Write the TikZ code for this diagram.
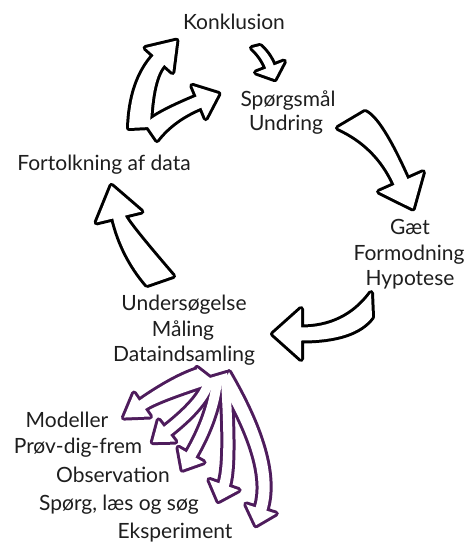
\documentclass[tikz,border=0pt]{standalone}
\usepackage{fontspec}
\setmainfont{Lato}
\usetikzlibrary{calc}
\definecolor{purp}{RGB}{78,28,92}
\definecolor{txt}{RGB}{30,30,30}
% #1 options, #2 tail-left, #3 tail-right, #4 control, #5 head base centre, #6 half shaft width at head, #7 half head width, #8 head length
\newcommand{\barrow}[8]{%
  \coordinate (bL0) at #2;
  \coordinate (bR0) at #3;
  \coordinate (bP0) at ($(bL0)!0.5!(bR0)$);
  \coordinate (bP1) at #4;
  \coordinate (bP2) at #5;
  \coordinate (bL2) at ($(bP2)!#6!-90:(bP1)$);
  \coordinate (bR2) at ($(bP2)!#6!90:(bP1)$);
  \coordinate (bLa) at ($(bL0)+(bP1)-(bP0)$);
  \coordinate (bLb) at ($(bL2)+(bP1)-(bP2)$);
  \coordinate (bRa) at ($(bR0)+(bP1)-(bP0)$);
  \coordinate (bRb) at ($(bR2)+(bP1)-(bP2)$);
  \coordinate (bL1) at (intersection of bL0--bLa and bL2--bLb);
  \coordinate (bR1) at (intersection of bR0--bRa and bR2--bRb);
  \coordinate (bHL) at ($(bP2)!#7!-90:(bP1)$);
  \coordinate (bHR) at ($(bP2)!#7!90:(bP1)$);
  \coordinate (bT) at ($(bP2)!-#8!(bP1)$);
  \path[#1] (bR0) -- (bL0) .. controls ($(bL0)!0.667!(bL1)$) and ($(bL2)!0.667!(bL1)$) .. (bL2)
     -- (bHL) -- (bT) -- (bHR) -- (bR2)
     .. controls ($(bR2)!0.667!(bR1)$) and ($(bR0)!0.667!(bR1)$) .. (bR0) -- cycle;
}
\newcommand{\blackset}[1]{%
  \barrow{#1}{(260,46)}{(252,48)}{(265.4,55.3)}{(270,67)}{4pt}{15pt}{13pt}
  \barrow{#1}{(365,112)}{(338,128)}{(379,132.6)}{(401,182)}{7pt}{24pt}{29pt}
  \barrow{#1}{(372,317)}{(371,293)}{(350,334)}{(301,334)}{6.5pt}{25pt}{28pt}
  \barrow{#1}{(147,285)}{(173,276)}{(124.3,239)}{(119,217)}{6pt}{23pt}{32pt}
  \barrow{#1}{(129,128)}{(150,127)}{(141,80)}{(159,60)}{7pt}{18pt}{26pt}
  \barrow{#1}{(146,124)}{(157,140)}{(163,117)}{(199,102)}{6pt}{17.5pt}{21pt}
}
\newcommand{\purpset}[1]{%
  \path[#1] (197,368) -- (210,378) -- (227,373) -- (231,385) -- (203,387) -- cycle;
  \barrow{#1}{(206,385)}{(198,369)}{(165,389)}{(142,405)}{5pt}{14pt}{22pt}
  \barrow{#1}{(214,381)}{(204,381)}{(204,402)}{(167,431)}{5pt}{13.5pt}{18pt}
  \barrow{#1}{(222,381)}{(212,381)}{(213,417)}{(191,455)}{5pt}{14.5pt}{17pt}
  \barrow{#1}{(230,381)}{(221,381)}{(231,465)}{(224,485)}{5pt}{15.5pt}{17pt}
  \barrow{#1}{(229,372)}{(222,386)}{(275,464)}{(261,509)}{5.5pt}{15.5pt}{17pt}
}
\begin{document}
\begin{tikzpicture}[x=1pt,y=-1pt,
  lbl/.style={font=\fontsize{21}{25}\selectfont, text=txt, anchor=base, inner sep=0pt}]
\path[use as bounding box, fill=white] (0,0) rectangle (468,542);
\blackset{draw=black, line width=6pt, line join=round}
\blackset{fill=white}
\purpset{draw=purp, line width=6pt, line join=round}
\purpset{fill=white}

\node[lbl] (konk) at (234,29) {Konklusion};
\node[lbl] (sp1) at (288,106) {Spørgsmål};
\node[lbl] (sp2) at (286,130) {Undring};
\node[lbl] (fort) at (104,170) {Fortolkning af data};
\node[lbl] (g1) at (410,234) {Gæt};
\node[lbl] (g2) at (409,260) {Formodning};
\node[lbl] (g3) at (410,285.5) {Hypotese};
\node[lbl] (u1) at (184,310) {Undersøgelse};
\node[lbl] (u2) at (183,336) {Måling};
\node[lbl] (u3) at (184,361.5) {Dataindsamling};
\node[lbl] (m1) at (67,427) {Modeller};
\node[lbl] (m2) at (78,453) {Prøv-dig-frem};
\node[lbl] (m3) at (113,482.5) {Observation};
\node[lbl] (m4) at (119,510) {Spørg, læs og søg};
\node[lbl] (m5) at (175,538) {Eksperiment};
\end{tikzpicture}
\end{document}
